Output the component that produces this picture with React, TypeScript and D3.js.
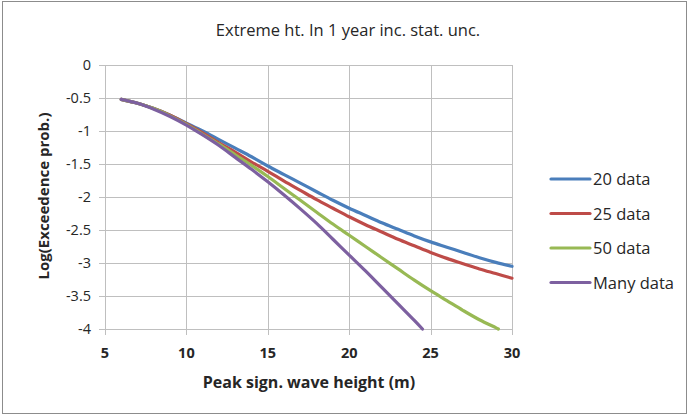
import React from "react";
import * as d3 from "d3";

const xValues = [6, 7, 8, 9, 10, 11, 12, 13, 14, 15, 16, 17, 18, 19, 20, 21, 22, 23, 24, 25, 26, 27, 28, 29, 30];
const data20 = [-0.52, -0.58, -0.66, -0.76, -0.88, -1.0, -1.13, -1.26, -1.39, -1.53, -1.66, -1.79, -1.92, -2.05, -2.17, -2.28, -2.39, -2.49, -2.59, -2.68, -2.76, -2.84, -2.92, -2.99, -3.05];
const data25 = [-0.52, -0.58, -0.66, -0.76, -0.89, -1.03, -1.18, -1.32, -1.47, -1.61, -1.76, -1.9, -2.04, -2.17, -2.3, -2.42, -2.53, -2.64, -2.74, -2.84, -2.93, -3.01, -3.09, -3.16, -3.23];
const xGreen = [6, 7, 8, 9, 10, 11, 12, 13, 14, 15, 16, 17, 18, 19, 20, 21, 22, 23, 24, 25, 26, 27, 28, 29, 29.16];
const data50 = [-0.52, -0.58, -0.66, -0.77, -0.9, -1.05, -1.2, -1.36, -1.52, -1.69, -1.87, -2.05, -2.23, -2.41, -2.58, -2.75, -2.92, -3.09, -3.26, -3.42, -3.57, -3.72, -3.86, -3.98, -4.0];
const xPurple = [6, 7, 8, 9, 10, 11, 12, 13, 14, 15, 16, 17, 18, 19, 20, 21, 22, 23, 24, 24.5];
const dataMany = [-0.52, -0.58, -0.67, -0.78, -0.91, -1.06, -1.22, -1.4, -1.58, -1.77, -1.97, -2.18, -2.4, -2.64, -2.88, -3.12, -3.37, -3.62, -3.87, -4.0];

const seriesNames = ["20 data", "25 data", "50 data", "Many data"];
const seriesColors = ["#4A7EBB", "#BE4B48", "#98B954", "#7D60A0"];
const xTicks = [5, 10, 15, 20, 25, 30];
const yTicks = [0, -0.5, -1, -1.5, -2, -2.5, -3, -3.5, -4];

const W = 689;
const H = 416;
const FONT = "'Open Sans', 'Noto Sans', sans-serif";

export default function App() {
  const x = d3.scaleLinear().domain([5, 30]).range([105, 512]);
  const y = d3.scaleLinear().domain([0, -4]).range([65, 329]);
  const line = d3
    .line<[number, number]>()
    .x((d) => x(d[0]))
    .y((d) => y(d[1]))
    .curve(d3.curveCatmullRom.alpha(0.5));

  const series: [number, number][][] = [
    xValues.map((v, i) => [v, data20[i]]),
    xValues.map((v, i) => [v, data25[i]]),
    xGreen.map((v, i) => [v, data50[i]]),
    xPurple.map((v, i) => [v, dataMany[i]]),
  ];

  const grid = "#BFBFBF";
  const legendY = [179, 213.5, 248, 282.5];

  return (
    <svg
      width={W}
      height={H}
      style={{ position: "absolute", left: 0, top: 0, display: "block", background: "#fff" }}
    >
      <rect x={2.5} y={1.5} width={684} height={412} fill="#fff" stroke="#8C8C8C" strokeWidth={1} />
      <text x={348} y={36} textAnchor="middle" fontFamily={FONT} fontSize={16.5} fill="#262626">
        Extreme ht. In 1 year inc. stat. unc.
      </text>
      {yTicks.map((t) => (
        <g key={"y" + t}>
          <line x1={99} x2={x(30)} y1={Math.round(y(t)) + 0.5} y2={Math.round(y(t)) + 0.5} stroke={grid} strokeWidth={1} />
          <text x={91} y={y(t) + 5} textAnchor="end" fontFamily={FONT} fontSize={14.5} fill="#262626">
            {t === 0 ? "0" : String(t)}
          </text>
        </g>
      ))}
      {xTicks.map((t) => (
        <g key={"x" + t}>
          <line x1={Math.round(x(t)) + 0.5} x2={Math.round(x(t)) + 0.5} y1={y(0)} y2={335} stroke={grid} strokeWidth={1} />
          <text x={x(t)} y={358} textAnchor="middle" fontFamily={FONT} fontWeight="bold" fontSize={14.5} fill="#262626">
            {t}
          </text>
        </g>
      ))}
      {series.map((s, i) => (
        <path key={"s" + i} d={line(s) || ""} fill="none" stroke={seriesColors[i]} strokeWidth={3.2} strokeLinecap="round" />
      ))}
      {seriesNames.map((n, i) => (
        <g key={"l" + i}>
          <line x1={551} x2={590} y1={legendY[i]} y2={legendY[i]} stroke={seriesColors[i]} strokeWidth={3.2} strokeLinecap="round" />
          <text x={593} y={legendY[i] + 6} fontFamily={FONT} fontSize={16.5} fill="#262626">
            {n}
          </text>
        </g>
      ))}
      <text x={309} y={388} textAnchor="middle" fontFamily={FONT} fontWeight="bold" fontSize={16} fill="#262626">
        Peak sign. wave height (m)
      </text>
      <text
        transform={`translate(49, ${196}) rotate(-90)`}
        textAnchor="middle"
        fontFamily={FONT}
        fontWeight="bold"
        fontSize={15}
        fill="#262626"
      >
        Log(Exceedence prob.)
      </text>
    </svg>
  );
}
